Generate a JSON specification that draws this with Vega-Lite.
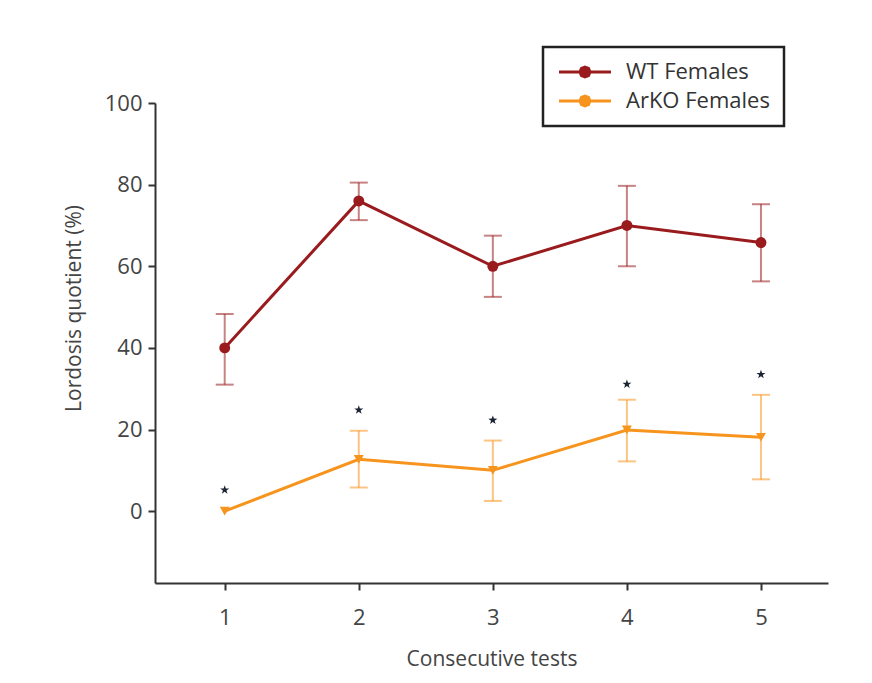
{
  "$schema": "https://vega.github.io/schema/vega-lite/v6.json",
  "width": 673,
  "height": 480,
  "autosize": {"type": "none"},
  "padding": {"left": 155, "top": 103, "right": 44, "bottom": 100},
  "datasets": {
    "main": [
      {"test": 1, "series": "WT Females", "mean": 40, "lo": 31, "hi": 48.3},
      {"test": 2, "series": "WT Females", "mean": 76, "lo": 71.3, "hi": 80.5},
      {"test": 3, "series": "WT Females", "mean": 60, "lo": 52.5, "hi": 67.5},
      {"test": 4, "series": "WT Females", "mean": 70, "lo": 60, "hi": 79.7},
      {"test": 5, "series": "WT Females", "mean": 65.8, "lo": 56.3, "hi": 75.2},
      {"test": 1, "series": "ArKO Females", "mean": 0, "lo": 0, "hi": 0},
      {"test": 2, "series": "ArKO Females", "mean": 12.7, "lo": 5.8, "hi": 19.7},
      {"test": 3, "series": "ArKO Females", "mean": 10, "lo": 2.5, "hi": 17.3},
      {"test": 4, "series": "ArKO Females", "mean": 19.9, "lo": 12.2, "hi": 27.3},
      {"test": 5, "series": "ArKO Females", "mean": 18.1, "lo": 7.8, "hi": 28.5}
    ],
    "stars": [
      {"test": 1, "star": 5.2},
      {"test": 2, "star": 24.8},
      {"test": 3, "star": 22.3},
      {"test": 4, "star": 31.1},
      {"test": 5, "star": 33.5}
    ]
  },
  "layer": [
    {
      "data": {"name": "main"},
      "mark": {"type": "line", "strokeWidth": 3},
      "encoding": {
        "x": {"field": "test", "type": "quantitative", "scale": {"domain": [0.48, 5.5], "nice": false, "zero": false},
          "axis": {"values": [1, 2, 3, 4, 5], "format": "d", "title": "Consecutive tests", "labelPadding": 17, "titlePadding": 20}},
        "y": {"field": "mean", "type": "quantitative", "scale": {"domain": [-17.6, 100], "nice": false},
          "axis": {"values": [0, 20, 40, 60, 80, 100], "title": "Lordosis quotient (%)", "labelPadding": 6, "titleX": -71, "titleY": 205}},
        "color": {"field": "series", "type": "nominal", "scale": {"domain": ["WT Females", "ArKO Females"], "range": ["#991b1e", "#f7941d"]},
          "legend": {"title": null, "orient": "none", "legendX": 388, "legendY": -56,
            "symbolType": "M-1.8,0H8.6M4.4,0L4.107,0.707L3.4,1L2.693,0.707L2.4,0L2.693,-0.707L3.4,-1L4.107,-0.707Z"}}
      }
    },
    {
      "data": {"name": "main"},
      "transform": [{"filter": "datum.hi > datum.lo"}],
      "mark": {"type": "rule", "strokeWidth": 2, "opacity": 0.55},
      "encoding": {
        "x": {"field": "test", "type": "quantitative"},
        "y": {"field": "lo", "type": "quantitative"},
        "y2": {"field": "hi"},
        "color": {"field": "series", "type": "nominal", "legend": null}
      }
    },
    {
      "data": {"name": "main"},
      "transform": [{"filter": "datum.hi > datum.lo"}],
      "mark": {"type": "tick", "orient": "horizontal", "size": 18, "thickness": 2, "opacity": 0.55},
      "encoding": {
        "x": {"field": "test", "type": "quantitative"},
        "y": {"field": "lo", "type": "quantitative"},
        "color": {"field": "series", "type": "nominal", "legend": null}
      }
    },
    {
      "data": {"name": "main"},
      "transform": [{"filter": "datum.hi > datum.lo"}],
      "mark": {"type": "tick", "orient": "horizontal", "size": 18, "thickness": 2, "opacity": 0.55},
      "encoding": {
        "x": {"field": "test", "type": "quantitative"},
        "y": {"field": "hi", "type": "quantitative"},
        "color": {"field": "series", "type": "nominal", "legend": null}
      }
    },
    {
      "data": {"name": "main"},
      "transform": [{"filter": "datum.series == 'WT Females'"}],
      "mark": {"type": "point", "shape": "circle", "filled": true, "size": 120, "opacity": 1},
      "encoding": {
        "x": {"field": "test", "type": "quantitative"},
        "y": {"field": "mean", "type": "quantitative"},
        "color": {"field": "series", "type": "nominal", "legend": null}
      }
    },
    {
      "data": {"name": "main"},
      "transform": [{"filter": "datum.series == 'ArKO Females'"}],
      "mark": {"type": "point", "shape": "triangle-down", "filled": true, "size": 100, "opacity": 1},
      "encoding": {
        "x": {"field": "test", "type": "quantitative"},
        "y": {"field": "mean", "type": "quantitative"},
        "color": {"field": "series", "type": "nominal", "legend": null}
      }
    },
    {
      "data": {"name": "stars"},
      "mark": {"type": "point", "shape": "M0,-1L0.235,-0.324L0.951,-0.309L0.38,0.124L0.588,0.809L0,0.4L-0.588,0.809L-0.38,0.124L-0.951,-0.309L-0.235,-0.324Z", "filled": true, "size": 90, "color": "#1c2435", "opacity": 1},
      "encoding": {
        "x": {"field": "test", "type": "quantitative"},
        "y": {"field": "star", "type": "quantitative"}
      }
    }
  ],
  "config": {
    "view": {"stroke": null},
    "axis": {
      "grid": false,
      "domainColor": "#333333",
      "domainWidth": 2,
      "tickColor": "#333333",
      "tickWidth": 2,
      "tickSize": 7,
      "labelFont": "Open Sans",
      "labelFontSize": 22,
      "labelColor": "#444444",
      "titleFont": "Open Sans",
      "titleFontSize": 21,
      "titleFontWeight": "normal",
      "titleColor": "#444444"
    },
    "legend": {
      "padding": 14,
      "strokeColor": "#222222",
      "strokeWidth": 2.5,
      "fillColor": "white",
      "symbolSize": 100,
      "symbolStrokeWidth": 3,
      "labelOffset": 47,
      "labelFont": "Open Sans",
      "labelFontSize": 22,
      "labelColor": "#333333",
      "rowPadding": 7
    }
  }
}
